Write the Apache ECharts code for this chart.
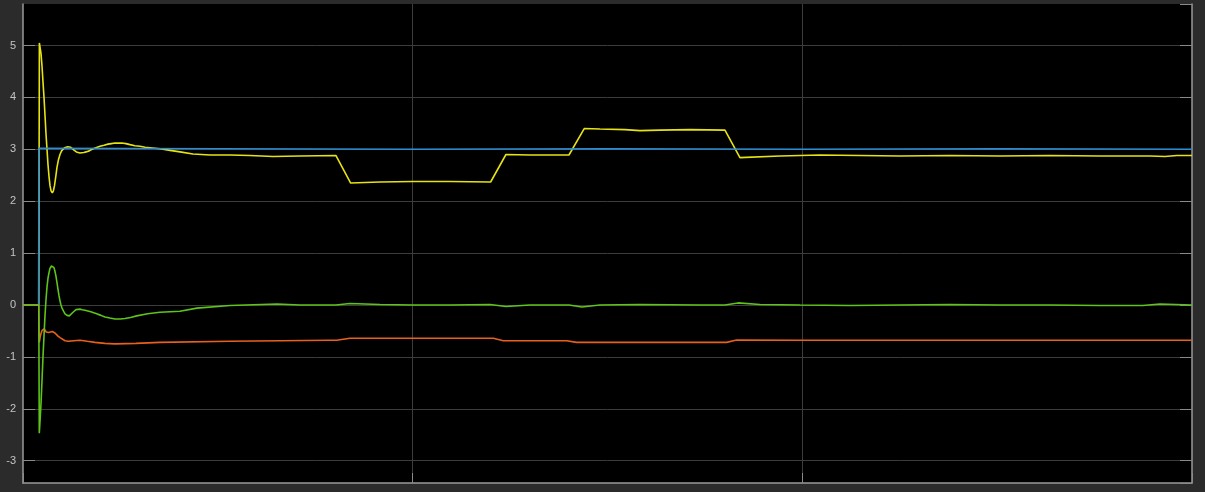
<!DOCTYPE html>
<html>
<head>
<meta charset="utf-8">
<script src="https://cdn.jsdelivr.net/npm/echarts@6/dist/echarts.min.js"></script>
<style>
html,body{margin:0;padding:0;background:#2b2b2b;}
#chart{width:1205px;height:492px;}
</style>
</head>
<body>
<div id="chart"></div>
<script>
// x range (time) and y range
var xMin = 0, xMax = 30, xInterval = 10;
var yMin = -3.43, yMax = 5.8;

// series data: [time, value]
var yellowData = [
  [0,0],[0.405,0],[0.420,5.05],[0.436,5.02],[0.462,4.85],[0.488,4.6],[0.513,4.3],[0.539,4.0],
  [0.565,3.65],[0.590,3.3],[0.616,3.0],[0.642,2.7],[0.667,2.48],[0.693,2.3],[0.720,2.2],
  [0.752,2.16],[0.780,2.2],[0.808,2.3],[0.840,2.47],[0.872,2.65],[0.910,2.8],[0.949,2.9],
  [0.990,2.97],[1.026,3.0],[1.065,3.03],[1.103,3.04],[1.150,3.05],[1.188,3.05],[1.225,3.04],
  [1.257,3.02],[1.300,2.99],[1.334,2.97],[1.370,2.95],[1.411,2.94],[1.460,2.93],[1.506,2.93],
  [1.560,2.94],[1.617,2.95],[1.700,2.97],[1.771,3.0],[1.870,3.03],[1.976,3.06],[2.080,3.08],
  [2.181,3.10],[2.270,3.11],[2.361,3.12],[2.450,3.12],[2.540,3.12],[2.640,3.11],[2.746,3.09],
  [2.870,3.07],[3.002,3.06],[3.130,3.04],[3.259,3.03],[3.515,3.01],[3.772,2.98],[4.029,2.95],
  [4.362,2.91],[4.799,2.89],[5.312,2.89],[5.825,2.88],[6.415,2.86],[7.108,2.87],[8.032,2.88],
  [8.409,2.35],[9.161,2.37],[10.008,2.38],[10.957,2.38],[12.001,2.37],[12.394,2.90],
  [13.010,2.89],[14.011,2.89],[14.403,3.40],[14.806,3.39],[15.448,3.38],[15.833,3.36],
  [16.346,3.37],[17.116,3.38],[18.014,3.37],[18.399,2.84],[19.425,2.87],[20.452,2.89],
  [21.478,2.88],[22.505,2.87],[23.788,2.88],[25.071,2.87],[26.353,2.88],[27.637,2.87],
  [28.920,2.87],[29.305,2.86],[29.612,2.88],[30,2.88]
];
var blueData = [
  [0,0],[0.40,0],[0.41,3.02],[5,3.01],[10,3.0],[15,3.01],[20,3.0],[25,3.01],[30,3.0]
];
var orangeData = [
  [0,0],[0.405,0],[0.418,-0.72],[0.440,-0.62],[0.462,-0.55],[0.490,-0.49],[0.521,-0.46],
  [0.545,-0.46],[0.565,-0.48],[0.595,-0.52],[0.624,-0.54],[0.660,-0.53],[0.693,-0.52],
  [0.752,-0.51],[0.790,-0.52],[0.821,-0.54],[0.860,-0.57],[0.898,-0.60],[0.950,-0.63],
  [1.001,-0.66],[1.080,-0.69],[1.162,-0.70],[1.300,-0.69],[1.463,-0.68],[1.650,-0.70],
  [1.848,-0.72],[2.100,-0.74],[2.361,-0.75],[2.900,-0.74],[3.515,-0.72],[5.312,-0.70],
  [7.878,-0.68],[8.05,-0.68],[8.391,-0.64],[10.008,-0.64],[12.068,-0.64],[12.325,-0.69],
  [13.952,-0.69],[14.208,-0.72],[16.089,-0.72],[18.057,-0.72],[18.314,-0.675],
  [19.938,-0.68],[22.505,-0.68],[25.071,-0.68],[30,-0.68]
];
var greenData = [
  [0,0],[0.405,0],[0.418,-2.47],[0.440,-2.2],[0.462,-1.9],[0.488,-1.45],[0.513,-1.0],
  [0.540,-0.58],[0.565,-0.2],[0.590,0.1],[0.616,0.35],[0.642,0.52],[0.667,0.62],
  [0.690,0.70],[0.706,0.73],[0.730,0.755],[0.752,0.76],[0.775,0.745],[0.795,0.72],
  [0.820,0.65],[0.847,0.55],[0.872,0.43],[0.898,0.3],[0.924,0.18],[0.949,0.08],
  [0.975,0.0],[1.001,-0.06],[1.040,-0.12],[1.078,-0.17],[1.130,-0.20],[1.188,-0.21],
  [1.235,-0.18],[1.283,-0.14],[1.320,-0.11],[1.360,-0.09],[1.410,-0.08],[1.463,-0.08],
  [1.520,-0.09],[1.591,-0.10],[1.740,-0.13],[1.891,-0.17],[2.000,-0.20],[2.104,-0.23],
  [2.230,-0.25],[2.361,-0.27],[2.490,-0.27],[2.617,-0.26],[2.760,-0.24],[2.918,-0.21],
  [3.200,-0.17],[3.515,-0.14],[4.029,-0.12],[4.465,-0.06],[5.312,-0.01],[6.518,0.02],
  [7.108,0.0],[8.032,0.0],[8.391,0.03],[9.161,0.01],[10.008,0.0],[10.957,0.0],
  [11.984,0.01],[12.394,-0.03],[13.010,0.0],[14.011,0.0],[14.344,-0.04],[14.806,0.0],
  [15.833,0.01],[17.372,0.0],[18.014,0.0],[18.348,0.04],[18.912,0.01],[19.938,0.0],
  [21.221,-0.01],[22.505,0.0],[23.788,0.01],[25.071,0.0],[26.353,0.0],[27.637,-0.01],
  [28.740,-0.01],[29.177,0.02],[30,0.0]
];

var seriesNames = ['yellow','blue','orange','green'];
var seriesColors = ['#e6e214','#2a8fd6','#e8601e','#5ec41a'];
var seriesData = [yellowData, blueData, orangeData, greenData];

var chart = echarts.init(document.getElementById('chart'), null, {renderer:'canvas'});
var gridLineColor = '#3c3c3c';
var tickColor = '#8a8a8a';
var axisColor = '#9a9a9a';

var option = {
  animation: false,
  backgroundColor: '#2b2b2b',
  grid: {left: 23, right: 13, top: 4, bottom: 9, show: true, backgroundColor: '#000000', borderWidth: 0},
  xAxis: [{
    type: 'value', min: xMin, max: xMax, interval: xInterval,
    axisLine: {show: true, onZero: false, lineStyle: {color: axisColor, width: 1.5}},
    axisTick: {show: true, inside: true, length: 10, lineStyle: {color: tickColor}},
    axisLabel: {show: false},
    splitLine: {show: true, showMinLine: false, showMaxLine: false, lineStyle: {color: gridLineColor, width: 1}}
  }],
  yAxis: [{
    type: 'value', min: yMin, max: yMax, splitNumber: 9,
    axisLine: {show: true, onZero: false, lineStyle: {color: axisColor, width: 1.5}},
    axisTick: {show: true, inside: true, length: 12, lineStyle: {color: tickColor}},
    axisLabel: {show: true, color: '#c4c4c4', fontSize: 11, fontFamily: 'Liberation Sans, Arial, sans-serif', margin: 7, showMinLabel: false, showMaxLabel: false},
    splitLine: {show: true, showMinLine: false, showMaxLine: false, lineStyle: {color: gridLineColor, width: 1}}
  },{
    type: 'value', position: 'right', min: yMin, max: yMax, splitNumber: 9,
    axisLine: {show: true, onZero: false, lineStyle: {color: axisColor, width: 1.5}},
    axisTick: {show: true, inside: true, length: 12, lineStyle: {color: tickColor}},
    axisLabel: {show: false},
    splitLine: {show: false}
  }],
  series: seriesData.map(function(d, i){
    return {
      name: seriesNames[i], type: 'line', data: d, showSymbol: false, symbol: 'none',
      sampling: null, yAxisIndex: 0,
      lineStyle: {color: seriesColors[i], width: 1.6},
      z: 2 + i
    };
  })
};
chart.setOption(option);
</script>
</body>
</html>
